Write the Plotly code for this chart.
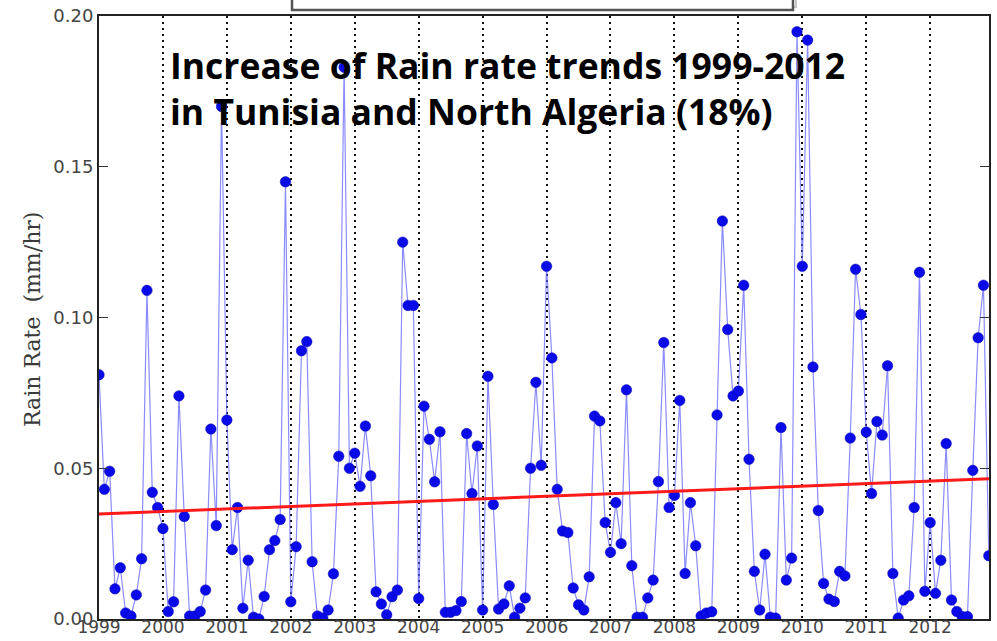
import plotly.graph_objects as go

# Monthly mean rain rate (mm/hr), January .. December of each year
years = list(range(1999, 2013))
rain_1999 = [0.081, 0.043, 0.049, 0.010, 0.017, 0.002, 0.001, 0.008, 0.020, 0.109, 0.042, 0.037]
rain_2000 = [0.030, 0.0025, 0.0057, 0.074, 0.034, 0.001, 0.001, 0.0025, 0.0096, 0.063, 0.031, 0.170]
rain_2001 = [0.066, 0.023, 0.037, 0.0036, 0.0195, 0.0006, 0.0, 0.0075, 0.023, 0.026, 0.033, 0.145]
rain_2002 = [0.0057, 0.024, 0.089, 0.092, 0.019, 0.001, 0.0003, 0.003, 0.015, 0.054, 0.183, 0.050]
rain_2003 = [0.055, 0.044, 0.064, 0.0475, 0.009, 0.005, 0.0014, 0.0074, 0.0096, 0.125, 0.104, 0.104]
rain_2004 = [0.0068, 0.0706, 0.0596, 0.0455, 0.0621, 0.0022, 0.0022, 0.0028, 0.0058, 0.0615, 0.0416, 0.0574]
rain_2005 = [0.003, 0.0805, 0.038, 0.0033, 0.005, 0.011, 0.0006, 0.0036, 0.007, 0.050, 0.0785, 0.051]
rain_2006 = [0.117, 0.0866, 0.043, 0.0292, 0.0287, 0.0103, 0.0047, 0.003, 0.014, 0.0673, 0.0657, 0.032]
rain_2007 = [0.0221, 0.0386, 0.025, 0.076, 0.0177, 0.0006, 0.0006, 0.007, 0.0129, 0.0456, 0.0917, 0.037]
rain_2008 = [0.041, 0.0725, 0.0151, 0.0386, 0.0243, 0.001, 0.002, 0.0024, 0.0677, 0.132, 0.096, 0.074]
rain_2009 = [0.0756, 0.1107, 0.053, 0.0158, 0.003, 0.0215, 0.0006, 0.0003, 0.0635, 0.0129, 0.0202, 0.1948]
rain_2010 = [0.117, 0.192, 0.0836, 0.036, 0.0118, 0.0066, 0.0058, 0.0158, 0.0143, 0.060, 0.116, 0.101]
rain_2011 = [0.062, 0.0416, 0.0655, 0.061, 0.084, 0.0151, 0.0003, 0.0063, 0.0077, 0.037, 0.115, 0.0092]
rain_2012 = [0.032, 0.0085, 0.0195, 0.0582, 0.0063, 0.0025, 0.0008, 0.0008, 0.0493, 0.0933, 0.1107, 0.021]

yearly = [rain_1999, rain_2000, rain_2001, rain_2002, rain_2003, rain_2004, rain_2005,
          rain_2006, rain_2007, rain_2008, rain_2009, rain_2010, rain_2011, rain_2012]

# Linear trend over the period (start / end values)
trend_x = [1999.0, 2012.92]
trend_y = [0.0348, 0.0465]

y_ticks = [0.0, 0.05, 0.10, 0.15, 0.20]
y_ticktext = ["0.00", "0.05", "0.10", "0.15", "0.20"]

# decimal-year time axis
t = []
rate = []
for yr, vals in zip(years, yearly):
    for m, v in enumerate(vals):
        t.append(yr + m / 12.0)
        rate.append(v)

fig = go.Figure()
fig.add_trace(go.Scatter(
    x=t, y=rate, mode="lines+markers",
    line=dict(color="rgba(90,90,255,0.7)", width=1.2),
    marker=dict(color="#0a0ae8", size=10.5, line=dict(color="#0000b0", width=0.5)),
    showlegend=False,
))
fig.add_trace(go.Scatter(
    x=trend_x, y=trend_y, mode="lines",
    line=dict(color="#ff1a1a", width=3),
    showlegend=False,
))

W, H = 997, 641
L, R, T, B = 99, 8, 16, 22
pw, ph = W - L - R, H - T - B


def px_x(x):
    return (x - L) / pw


def px_y(y):
    return (H - B - y) / ph


fig.update_layout(
    width=W, height=H,
    margin=dict(l=L, r=R, t=T, b=B),
    paper_bgcolor="white", plot_bgcolor="white",
    xaxis=dict(
        range=[1999, 2012.92], automargin=False,
        tickvals=years, ticktext=[str(y) for y in years],
        showgrid=True, gridcolor="#111", gridwidth=2, griddash="2px,4px",
        showline=True, linecolor="#222", linewidth=2, mirror=True,
        ticks="", zeroline=False, ticklabelstandoff=-8,
        tickfont=dict(family="DejaVu Sans", size=17, color="#444"),
    ),
    yaxis=dict(
        range=[0, 0.2], automargin=False,
        tickvals=y_ticks, ticktext=y_ticktext,
        showgrid=False, zeroline=False,
        showline=True, linecolor="#222", linewidth=2, mirror="ticks",
        ticks="inside", ticklen=9, tickwidth=1.2, tickcolor="#333",
        tickfont=dict(family="DejaVu Sans", size=18, color="#444"),
    ),
    shapes=[
        # legend frame above the axes
        dict(type="rect", xref="paper", yref="paper",
             x0=px_x(295), x1=px_x(796), y0=px_y(7), y1=px_y(-30),
             line=dict(color="#c8c8c8", width=2), fillcolor="rgba(0,0,0,0)", layer="above"),
        dict(type="rect", xref="paper", yref="paper",
             x0=px_x(292), x1=px_x(793), y0=px_y(10), y1=px_y(-30),
             line=dict(color="#555", width=2.5), fillcolor="white", layer="above"),
    ],
    annotations=[
        dict(text="Increase of Rain rate trends 1999-2012<br>in Tunisia and North Algeria (18%)",
             xref="paper", yref="paper", x=px_x(168), y=px_y(39),
             xanchor="left", yanchor="top", align="left", showarrow=False,
             font=dict(family="Open Sans", size=35.5, color="black", weight="bold")),
        dict(text="Rain Rate\u00a0\u00a0(mm/hr)", textangle=-90,
             xref="paper", yref="paper", x=px_x(33), y=px_y(320),
             xanchor="center", yanchor="middle", showarrow=False,
             font=dict(family="DejaVu Serif", size=22, color="#3a3a3a")),
    ],
)

fig.write_html("out.html")
